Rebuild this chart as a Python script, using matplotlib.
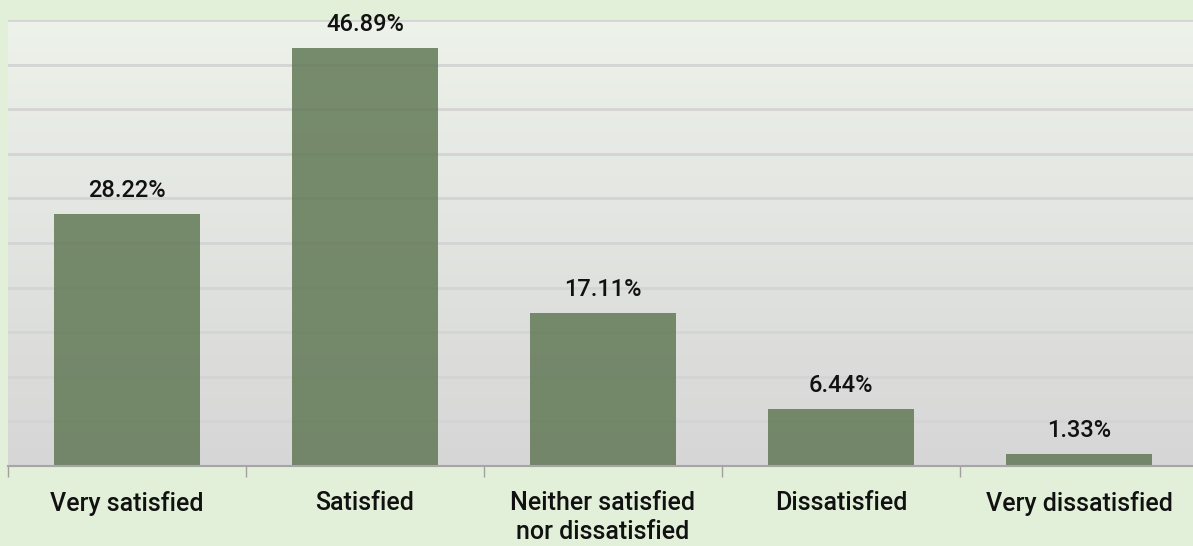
import numpy as np
import matplotlib.pyplot as plt
from matplotlib.colors import LinearSegmentedColormap

categories = ["Very satisfied", "Satisfied", "Neither satisfied\nnor dissatisfied",
              "Dissatisfied", "Very dissatisfied"]
values = [28.22, 46.89, 17.11, 6.44, 1.33]
labels = ["28.22%", "46.89%", "17.11%", "6.44%", "1.33%"]

plt.rcParams['font.family'] = ['Roboto', 'DejaVu Sans']

fig = plt.figure(figsize=(11.93, 5.46), dpi=100, facecolor="#e2efd9")
ax = fig.add_axes([8 / 1193, 80 / 546, 1190 / 1193, 446 / 546])

# background gradient of the plot area
grad = LinearSegmentedColormap.from_list("bg", ["#d6d6d6", "#edf2ea"])
ax.imshow(np.linspace(0, 1, 256).reshape(-1, 1), cmap=grad, origin="lower",
          extent=[-0.5, 4.5, 0, 50], aspect="auto", zorder=0)

x = np.arange(len(categories))
ax.bar(x, values, width=0.615, color="#5d7551", alpha=0.82, zorder=3)

for xi, v, lab in zip(x, values, labels):
    ax.text(xi, v + 1.9, lab, ha="center", va="baseline", fontsize=17,
            fontweight="medium", color="#111111", zorder=4)

ax.set_xlim(-0.5, 4.5)
ax.set_ylim(0, 50)
ax.set_yticks(np.arange(0, 51, 5))
ax.yaxis.grid(True, color="#d4d4d4", linewidth=2, zorder=1)
ax.tick_params(axis="y", left=False, labelleft=False)
ax.set_xticks(x)
ax.set_xticklabels(categories, fontsize=18, fontweight="medium", color="#111111",
                   linespacing=1.25)
ax.set_xticks(np.arange(-0.5, 5, 1), minor=True)
ax.tick_params(axis="x", which="major", length=0, pad=18)
ax.tick_params(axis="x", which="minor", length=8, color="#a0a0a0", width=1)
for s in ["top", "right", "left"]:
    ax.spines[s].set_visible(False)
ax.spines["bottom"].set_color("#a6a6a6")
ax.spines["bottom"].set_linewidth(1.5)
ax.spines["bottom"].set_zorder(5)

fig.savefig("out.png", dpi=100, facecolor=fig.get_facecolor())
